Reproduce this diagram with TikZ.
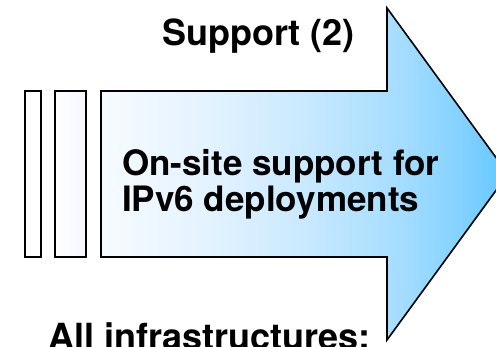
\documentclass[tikz,border=0pt]{standalone}
\usepackage{fontspec}
\setmainfont{TeX Gyre Heros}
\definecolor{s0}{HTML}{F7FBFF}
\definecolor{s1}{HTML}{E4F3FF}
\definecolor{s2}{HTML}{C9E9FF}
\definecolor{s3}{HTML}{A2DCFF}
\definecolor{s4}{HTML}{84D2FF}
\definecolor{s5}{HTML}{62C8FF}
\pgfdeclarehorizontalshading{arrowshade}{100bp}{color(0bp)=(s0); color(25bp)=(s0); color(37.5bp)=(s1); color(50bp)=(s2); color(62.5bp)=(s3); color(69bp)=(s4); color(75bp)=(s5); color(100bp)=(s5)}
\definecolor{barR}{HTML}{F3F8FF}
\tikzset{
  outline/.style={draw=black, line width=1.6pt, line join=miter},
  lbl/.style={font=\bfseries, inner sep=0pt, anchor=base west, text=black}
}
\begin{document}
\begin{tikzpicture}[x=1pt,y=-1pt]
\useasboundingbox (0,0) rectangle (496,347);
\clip (0,0) rectangle (496,347);
\fill[white] (0,0) rectangle (496,347);
% bars
\path[outline, fill=white] (25,91) rectangle (41,257);
\path[outline, left color=white, right color=barR] (55,91) rectangle (86,257);
% arrow
\path[outline, shading=arrowshade]
  (101,91) -- (387,91) -- (387,8) -- (508,174) -- (387,340) -- (387,257) -- (101,257) -- cycle;
% labels
\node[lbl, font=\fontsize{36}{40}\selectfont\bfseries] (title) at (162,46) {Support (2)};
\node[lbl, font=\fontsize{35}{36}\selectfont\bfseries, align=left] (body) at (122,212) {On-site support for\\IPv6 deployments};
\node[lbl, font=\fontsize{36}{40}\selectfont\bfseries] (bottom) at (48,350) {All infrastructures:};
\end{tikzpicture}
\end{document}
